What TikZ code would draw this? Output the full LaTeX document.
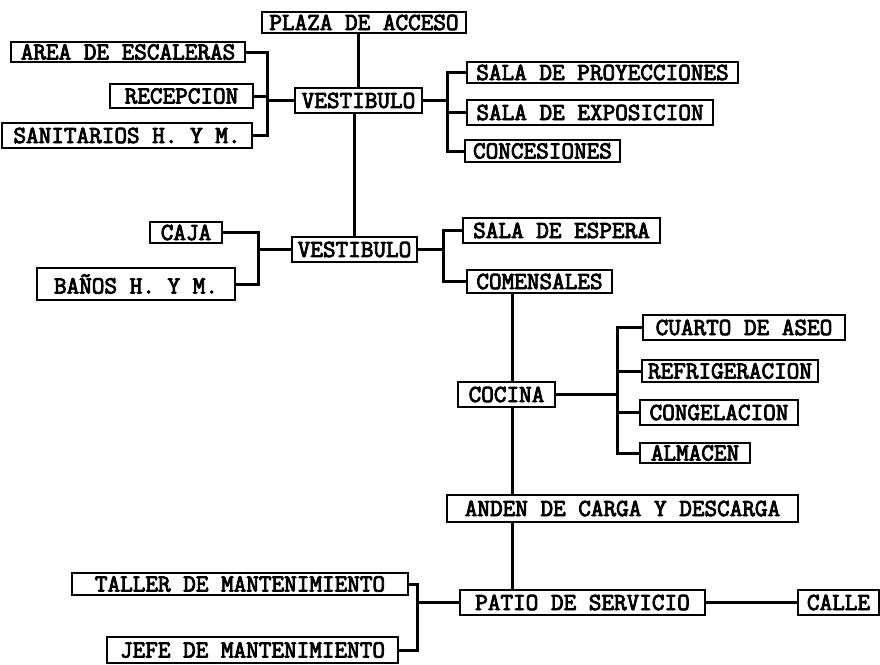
\documentclass[tikz,border=0pt]{standalone}
\usepackage{fontspec}
\newfontfamily\tw{Latin Modern Mono}[FakeBold=3.5]
\begin{document}
\begin{tikzpicture}[x=1pt,y=-1pt,
  box/.style={draw, line width=1.6pt, inner sep=0pt, anchor=center,
    font=\tw\fontsize{24.5}{26}\selectfont},
  link/.style={line width=3pt}]
\useasboundingbox (0,0) rectangle (880,664);
% top level
\node[box, minimum width=204, minimum height=21] (plaza) at (364,22.5) {PLAZA DE ACCESO};
\node[box, minimum width=127, minimum height=25] (vest1) at (358.5,100.5) {VESTIBULO};
\node[box, minimum width=234, minimum height=20] (area) at (128,52) {AREA DE ESCALERAS};
\node[box, minimum width=143, minimum height=24] (recep) at (181.5,96) {RECEPCION};
\node[box, minimum width=250, minimum height=25] (sanit) at (127,135.5) {SANITARIOS H. Y M.};
\node[box, minimum width=271, minimum height=21] (proy) at (602.5,72.5) {SALA DE PROYECCIONES};
\node[box, minimum width=246, minimum height=25] (expo) at (590,112.5) {SALA DE EXPOSICION};
\node[box, minimum width=155, minimum height=22] (conc) at (542.5,151) {CONCESIONES};
% second vestibulo
\node[box, minimum width=125, minimum height=25] (vest2) at (354.5,249.5) {VESTIBULO};
\node[box, minimum width=72, minimum height=21] (caja) at (186,232.5) {CAJA};
\node[box, minimum width=198, minimum height=32] (banos) at (136,284) {BAÑOS H. Y M.};
\node[box, minimum width=197, minimum height=25] (espera) at (561.5,230.5) {SALA DE ESPERA};
\node[box, minimum width=145, minimum height=23] (comen) at (539.5,281.5) {COMENSALES};
% cocina
\node[box, minimum width=97, minimum height=25] (cocina) at (506.5,394.5) {COCINA};
\node[box, minimum width=202, minimum height=25] (cuarto) at (744,327.5) {CUARTO DE ASEO};
\node[box, minimum width=176, minimum height=22] (refri) at (730,371) {REFRIGERACION};
\node[box, minimum width=158, minimum height=25] (conge) at (719,412.5) {CONGELACION};
\node[box, minimum width=110, minimum height=20] (almac) at (695,453) {ALMACEN};
\node[box, minimum width=351, minimum height=27] (anden) at (622.5,508.5) {ANDEN DE CARGA Y DESCARGA};
% service
\node[box, minimum width=245, minimum height=25] (patio) at (582.5,602.5) {PATIO DE SERVICIO};
\node[box, minimum width=336, minimum height=22] (taller) at (240,584) {TALLER DE MANTENIMIENTO};
\node[box, minimum width=291, minimum height=26] (jefe) at (252.5,650) {JEFE DE MANTENIMIENTO};
\node[box, minimum width=81, minimum height=25] (calle) at (838.5,602.5) {CALLE};
% junctions
\coordinate (jL1) at (267,100.5);
\coordinate (jR1) at (447,100.5);
\coordinate (jL2) at (258,249.5);
\coordinate (jR2) at (443,249.5);
\coordinate (jC) at (617,394.5);
\coordinate (jP) at (417,602.5);
\coordinate (sp) at (512,0);
% connectors
\draw[link] (vest1.north) -- (vest1.north |- plaza.south);
\draw[link] (vest2.north) -- (vest2.north |- vest1.south);
\draw[link] (area.east) -| (jL1);
\draw[link] (sanit.east) -| (jL1);
\draw[link] (recep.east) -- (recep.east -| jL1);
\draw[link] (jL1) -- (vest1.west);
\draw[link] (vest1.east) -- (jR1);
\draw[link] (jR1) |- (proy.west);
\draw[link] (jR1) |- (expo.west);
\draw[link] (jR1) |- (conc.west);
\draw[link] (caja.east) -| (jL2);
\draw[link] (banos.east) -| (jL2);
\draw[link] (jL2) -- (vest2.west);
\draw[link] (vest2.east) -- (jR2);
\draw[link] (jR2) |- (espera.west);
\draw[link] (jR2) |- (comen.west);
\draw[link] (comen.south -| sp) -- (cocina.north -| sp);
\draw[link] (cocina.south -| sp) -- (anden.north -| sp);
\draw[link] (anden.south -| sp) -- (patio.north -| sp);
\draw[link] (cocina.east) -- (jC);
\draw[link] (jC) |- (cuarto.west);
\draw[link] (jC) |- (refri.west);
\draw[link] (jC) |- (conge.west);
\draw[link] (jC) |- (almac.west);
\draw[link] (taller.east) -| (jP);
\draw[link] (jefe.east) -| (jP);
\draw[link] (jP) -- (patio.west);
\draw[link] (patio.east) -- (calle.west);
\end{tikzpicture}
\end{document}
